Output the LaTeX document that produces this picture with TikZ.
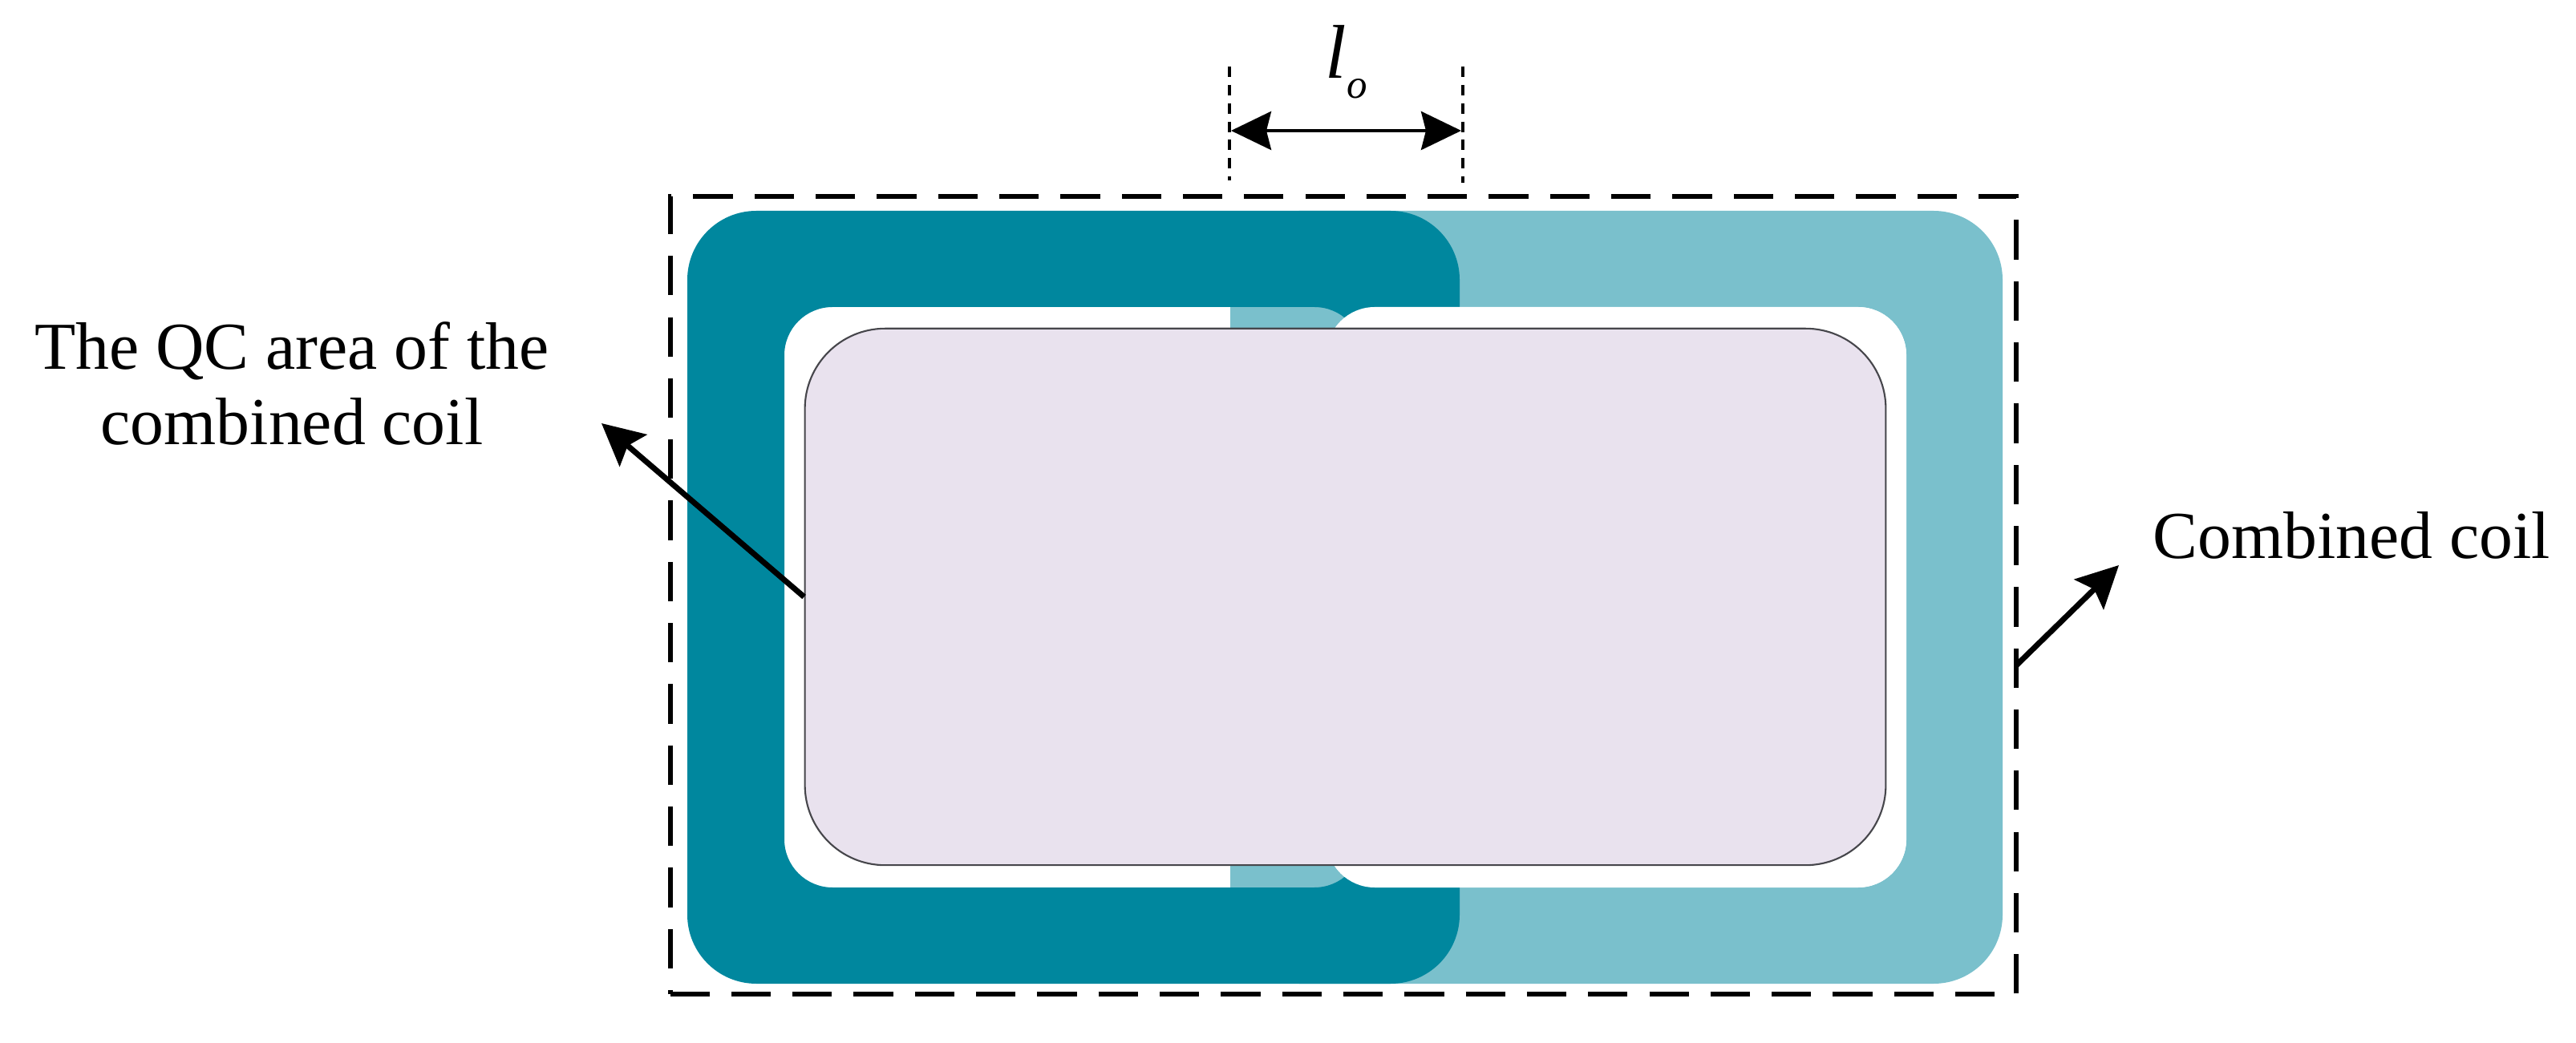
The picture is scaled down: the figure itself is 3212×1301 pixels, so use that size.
\documentclass[tikz,border=0pt]{standalone}
\usepackage{fontspec}
\setmainfont{Liberation Serif}
\usetikzlibrary{arrows.meta}
\definecolor{coilDark}{RGB}{0,135,158}
\definecolor{coilLight}{RGB}{122,192,204}
\definecolor{qcFill}{RGB}{233,226,238}
\definecolor{qcLine}{RGB}{70,70,75}
\begin{document}
\begin{tikzpicture}[x=0.01cm,y=-0.01cm,
  labeltext/.style={font=\fontsize{23.8}{27}\selectfont, inner sep=0pt},
  boxline/.style={draw=black, line width=1.7pt, dash pattern=on 14pt off 7.7pt},
  guideline/.style={draw=black, line width=1.1pt, dash pattern=on 3.7pt off 2.8pt},
  pointer/.style={draw=black, line width=2pt, -{Stealth[length=0.52cm, width=0.52cm, inset=0.09cm]}},
  dimarrow/.style={draw=black, line width=1.1pt, {Stealth[length=0.5cm, width=0.48cm, inset=0.06cm]}-{Stealth[length=0.5cm, width=0.48cm, inset=0.06cm]}},
  qcarea/.style={draw=qcLine, line width=0.6pt, fill=qcFill, rounded corners=1cm, inner sep=0pt}
]
\useasboundingbox (0,0) rectangle (3212,1301);

% right coil (light)
\fill[coilLight, even odd rule] [rounded corners=0.86cm] (1534,263) rectangle (2497,1227)
      [rounded corners=0.6cm] (1654,383) rectangle (2377,1107);
% left coil (dark), on top
\fill[coilDark, even odd rule] [rounded corners=0.86cm] (857,263) rectangle (1820,1227)
      [rounded corners=0.6cm] (978,383) rectangle (1699,1107);
% hole of the right coil
\fill[white, rounded corners=0.6cm] (1654,383) rectangle (2377,1107);

% QC area
\node[qcarea, minimum width=13.47cm, minimum height=6.69cm] (qc) at (1677.5,744.5) {};

% dashed outline of the combined coil
\node[boxline, minimum width=16.77cm, minimum height=9.95cm, inner sep=0pt] (box) at (1674.5,742.5) {};

% overlap dimension
\draw[guideline] (1533,83) -- (1533,225);
\draw[guideline] (1824,83) -- (1824,228);
\coordinate (dimL) at (1535,163);
\coordinate (dimR) at (1822,163);
\draw[dimarrow] (dimL) -- (dimR);
\node[anchor=base west, inner sep=0pt] (lo) at (1652,98)
  {\fontsize{27}{27}\selectfont\textit{l}\raisebox{-7pt}{\fontsize{14.5}{14.5}\selectfont\textit{o}}};

% labels
\node[labeltext, align=center, anchor=base] (qctext) at (364,555)
  {The QC area of the\\combined coil};
\coordinate (qctip) at (750,528);
\draw[pointer] (qc.west) -- (qctip);

\node[labeltext, anchor=base west] (cctext) at (2684,697) {Combined coil};
\coordinate (ccstart) at (2514,830);
\coordinate (cctip) at (2642,705);
\draw[pointer] (ccstart) -- (cctip);
\end{tikzpicture}
\end{document}
